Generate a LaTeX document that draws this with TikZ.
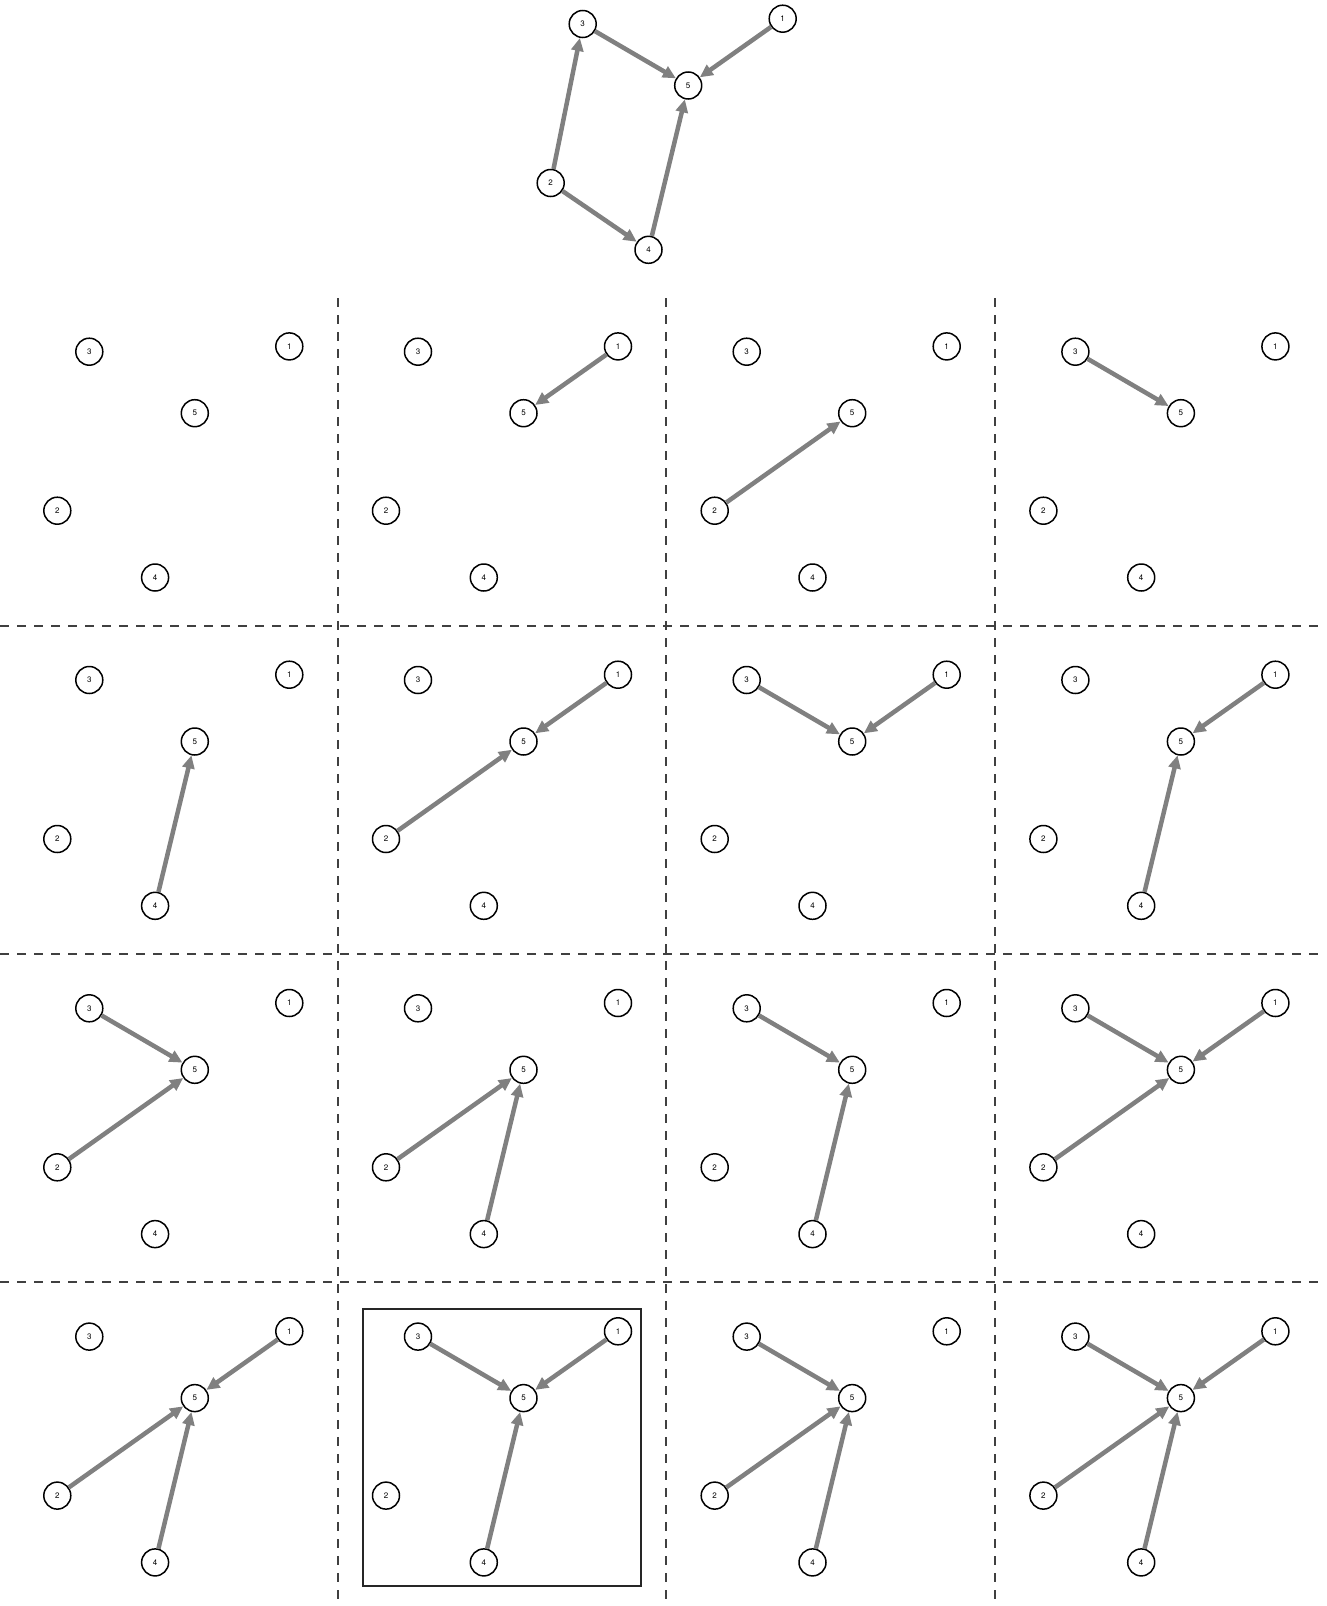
\documentclass[tikz,border=0pt]{standalone}
\usepackage{fontspec}
\setmainfont{TeX Gyre Heros}
\usetikzlibrary{arrows.meta}

% The five vertices of one panel, placed round vertex 3.
\newcommand{\panelnodes}[3]{%
  \begin{scope}[shift={(#2,#3)}]
    \node[vertex] (#1-3) at (0,0) {3};
    \node[vertex] (#1-1) at (200,-5.3) {1};
    \node[vertex] (#1-5) at (105.5,61.5) {5};
    \node[vertex] (#1-2) at (-32,159) {2};
    \node[vertex] (#1-4) at (65.8,225.8) {4};
  \end{scope}}

\begin{document}
\begin{tikzpicture}[x=1pt,y=-1pt,>={Triangle[length=13pt,width=12pt]},
    vertex/.style={circle,draw,line width=1.5pt,minimum size=27pt,inner sep=0pt,
      font=\fontsize{8}{9}\selectfont},
    edge/.style={->,draw=gray,line width=4.5pt},
    separator/.style={draw=black!75,line width=1.8pt,dash pattern=on 9pt off 8pt}]
    \useasboundingbox (0,0) rectangle (1326,1606);

    % The whole graph on top.
    \panelnodes{t}{582.7}{24}
    \draw[edge] (t-3) -- (t-5);
    \draw[edge] (t-1) -- (t-5);
    \draw[edge] (t-2) -- (t-3);
    \draw[edge] (t-2) -- (t-4);
    \draw[edge] (t-4) -- (t-5);

    % The grid of panels, four by four.
    \draw[separator] (337.6,298) -- (337.6,1606);
    \draw[separator] (666.3,298) -- (666.3,1606);
    \draw[separator] (995,298) -- (995,1606);
    \draw[separator] (0,625.6) -- (1322,625.6);
    \draw[separator] (0,954) -- (1322,954);
    \draw[separator] (0,1282) -- (1322,1282);

    \foreach \r in {0,...,3}
      \foreach \c in {0,...,3}
        \panelnodes{c\r\c}{89.3+328.7*\c}{351.7+328.3*\r};

    % The parents of vertex 5 in each panel.
    \foreach \cell/\srcs in {01/{1},02/{2},03/{3},
        10/{4},11/{2,1},12/{3,1},13/{1,4},
        20/{3,2},21/{2,4},22/{3,4},23/{3,1,2},
        30/{1,2,4},31/{3,1,4},32/{3,2,4},33/{3,1,2,4}}
      \foreach \s in \srcs
        \draw[edge] (c\cell-\s) -- (c\cell-5);

    % The chosen panel.
    \draw[line width=1.8pt,draw=black!85] (363.3,1309.3) rectangle (641,1586);
  \end{tikzpicture}
\end{document}
